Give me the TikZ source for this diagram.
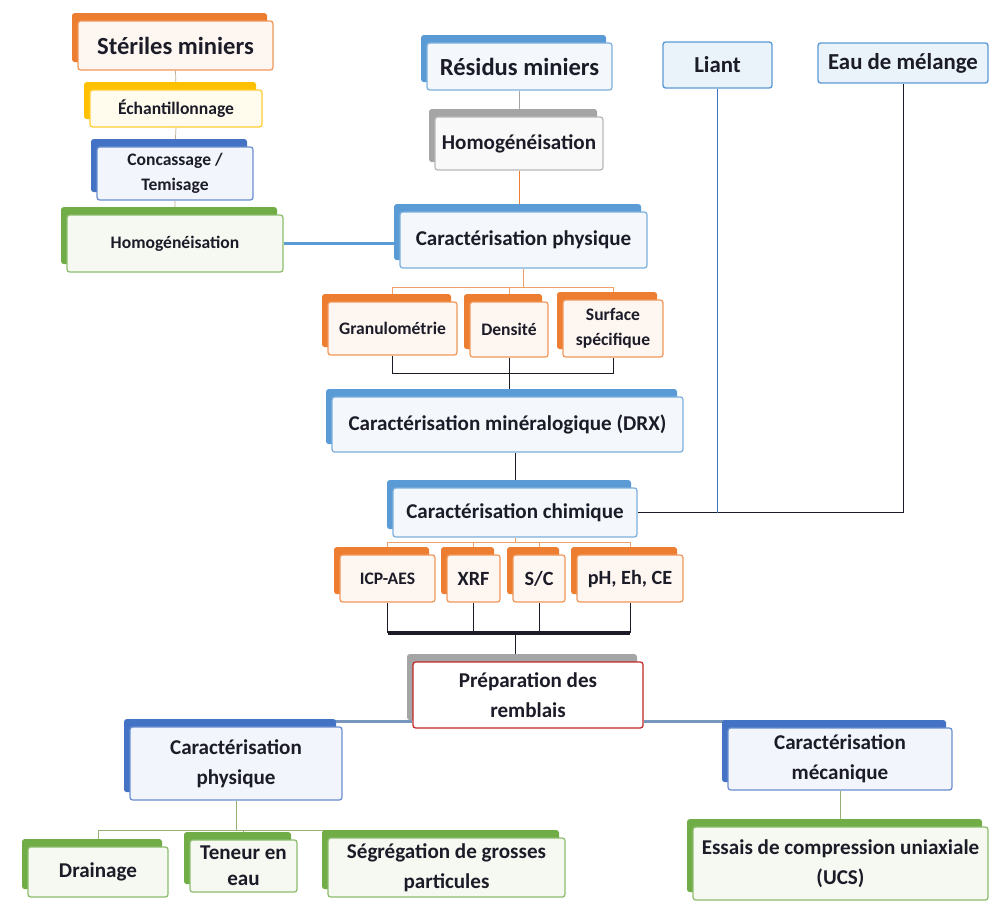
\documentclass[tikz,border=0pt]{standalone}
\usepackage{fontspec}
\setmainfont{Carlito}
\usetikzlibrary{shadows, backgrounds, calc}
\definecolor{minorange}{RGB}{237,125,49}
\definecolor{minpeach}{RGB}{240,160,105}
\definecolor{mingold}{RGB}{255,192,0}
\definecolor{minblue}{RGB}{91,155,213}
\definecolor{mindeepblue}{RGB}{68,114,196}
\definecolor{mingreen}{RGB}{112,173,71}
\definecolor{mingray}{RGB}{165,165,165}
\definecolor{minred}{RGB}{192,40,40}
\definecolor{minink}{RGB}{28,28,40}
\definecolor{mintan}{RGB}{190,175,145}
\definecolor{minsteel}{RGB}{120,150,190}
\definecolor{minolive}{RGB}{150,175,115}

\tikzset{
  card/.style={draw=#1!80, fill=#1!7, line width=0.7pt, rounded corners=1.5pt,
    align=center, text=minink, inner sep=1pt,
    general shadow={fill=#1, draw=none, shadow xshift=-3.4pt, shadow yshift=4.5pt}},
  flatcard/.style={draw=minblue, fill=minblue!12, line width=0.8pt, rounded corners=1.5pt,
    align=center, text=minink, inner sep=1pt},
  boxsize/.style 2 args={minimum width=#1cm, minimum height=#2cm},
  txtbig/.style={font=\fontsize{14}{17}\selectfont\bfseries},
  txttop/.style={font=\fontsize{13}{16}\selectfont\bfseries},
  txtmid/.style={font=\fontsize{12}{17}\selectfont\bfseries},
  txtchem/.style={font=\fontsize{11.5}{14}\selectfont\bfseries},
  txtsmall/.style={font=\fontsize{10}{14.5}\selectfont\bfseries},
}

\begin{document}
\begin{tikzpicture}[x=0.02cm, y=-0.02cm, line width=1pt]
  \useasboundingbox (0,0) rectangle (990,902);

  \node[card=minorange, txtbig, boxsize={3.9}{0.98}] (ster) at (175.5,45.5) {Stériles miniers};
  \node[card=mingold, txtsmall, boxsize={3.44}{0.74}] (ech) at (176,108.5) {Échantillonnage};
  \node[card=mindeepblue, txtsmall, boxsize={3.12}{1.06}] (conc) at (175,173.5) {Concassage /\\Temisage};
  \node[card=mingreen, txtsmall, boxsize={4.32}{1.14}] (homL) at (175,243.5) {Homogénéisation};

  \node[card=minblue, txtbig, boxsize={3.7}{0.94}] (res) at (519.5,66.5) {Résidus miniers};
  \node[card=mingray, txtmid, boxsize={3.36}{1.06}] (homC) at (519,143.5) {Homogénéisation};
  \node[flatcard, txttop, boxsize={2.18}{0.92}] (liant) at (717.5,65) {Liant};
  \node[flatcard, txttop, boxsize={3.4}{0.8}] (eau) at (903,63) {Eau de mélange};

  \node[card=minblue, txtmid, boxsize={4.94}{1.12}] (cphys) at (523.5,240) {Caractérisation physique};
  \node[card=minorange, txtsmall, boxsize={2.58}{1.06}] (gran) at (392.5,328.5) {Granulométrie};
  \node[card=minorange, txtsmall, boxsize={1.56}{1.1}] (dens) at (509,329.5) {Densité};
  \node[card=minorange, txtsmall, boxsize={2.0}{1.14}] (surf) at (613,328.5) {Surface\\spécifique};
  \node[card=minblue, txtmid, boxsize={7.02}{1.1}] (drx) at (507.5,424.5) {Caractérisation minéralogique (DRX)};
  \node[card=minblue, txtmid, boxsize={4.88}{0.98}] (chim) at (515,512.5) {Caractérisation chimique};

  \node[card=minorange, txtsmall, boxsize={1.9}{0.94}] (icp) at (387.5,578.5) {ICP-AES};
  \node[card=minorange, txtchem, boxsize={1.06}{0.94}] (xrf) at (473.5,578.5) {XRF};
  \node[card=minorange, txtchem, boxsize={1.04}{0.94}] (sc) at (539,578.5) {S/C};
  \node[card=minorange, txtchem, boxsize={2.12}{0.94}] (ph) at (630,578.5) {pH, Eh, CE};

  \node[card=mingray, draw=minred, fill=white, txtmid, boxsize={4.6}{1.32}] (prep) at (528,695) {Préparation des\\remblais};
  \node[card=mindeepblue, txtmid, boxsize={4.24}{1.46}] (cphys2) at (236,763.5) {Caractérisation\\physique};
  \node[card=mindeepblue, txtmid, boxsize={4.48}{1.24}] (cmec) at (840,759) {Caractérisation\\mécanique};

  \node[card=mingreen, txtmid, boxsize={2.8}{1.0}] (drain) at (98,872) {Drainage};
  \node[card=mingreen, font=\fontsize{12}{15}\selectfont\bfseries, boxsize={2.14}{1.04}] (ten) at (243.5,866) {Teneur en\\eau};
  \node[card=mingreen, txtmid, boxsize={4.74}{1.18}] (seg) at (446.5,867.5) {Ségrégation de grosses\\particules};
  \node[card=mingreen, txtmid, boxsize={5.9}{1.46}] (ess) at (840.5,863.5) {Essais de compression uniaxiale\\(UCS)};

  \begin{scope}[on background layer]
    \fill[white] (0,0) rectangle (990,902);
    \draw[mintan] (ster.south) -- (ech.north) (ech.south) -- (conc.north) (conc.south) -- (homL.north);
    \draw[minblue, line width=1.3pt] (homL.east) -- (homL.east -| cphys.west);
    \draw[mingray] (res.south) -- (res.south |- homC.north);
    \draw[minorange] (homC.south) -- (homC.south |- cphys.north);

    \draw[minpeach] (cphys.south) -- ++(0,19) coordinate (phys fork);
    \foreach \n in {gran,dens,surf} {
      \draw[minpeach] (phys fork) -| (\n.north);
    }
    \draw[minink] (gran.south) -- ++(0,18) -| (surf.south);
    \draw[minink] (dens.south) -- (dens.south |- drx.north);
    \draw[minink] (chim.north |- drx.south) -- (chim.north);

    \coordinate (mix) at (eau.south |- chim.east);
    \draw[minink] (chim.east) -- (mix) -- (eau.south);
    \draw[mindeepblue] (liant.south) -- (liant.south |- chim.east);

    \draw[minpeach] (chim.south) -- ++(0,5) coordinate (chem fork);
    \foreach \n in {icp,xrf,sc,ph} {
      \draw[minpeach] (chem fork) -| (\n.north);
      \draw[minink] (\n.south) -- ++(0,30);
    }
    \path (icp.south) ++(0,30) coordinate (chem base);
    \draw[minink, line width=2.2pt] (chem base) -- (chem base -| ph.south);
    \draw[minink] (chem base -| chim.south) -- (prep.north -| chim.south);

    \draw[minsteel, line width=1.3pt] (cphys2.north) |- ($(prep.south west)+(0,-7)$);
    \draw[minsteel, line width=1.3pt] ($(prep.south east)+(0,-7)$) -| (cmec.north);
    \draw[minolive] (cmec.south) -- (cmec.south |- ess.north);

    \draw[minolive] (cphys2.south) -- ++(0,30) coordinate (phys2 fork);
    \foreach \n in {drain,ten,seg} {
      \draw[minolive] (phys2 fork) -| (\n.north);
    }
  \end{scope}
\end{tikzpicture}
\end{document}
